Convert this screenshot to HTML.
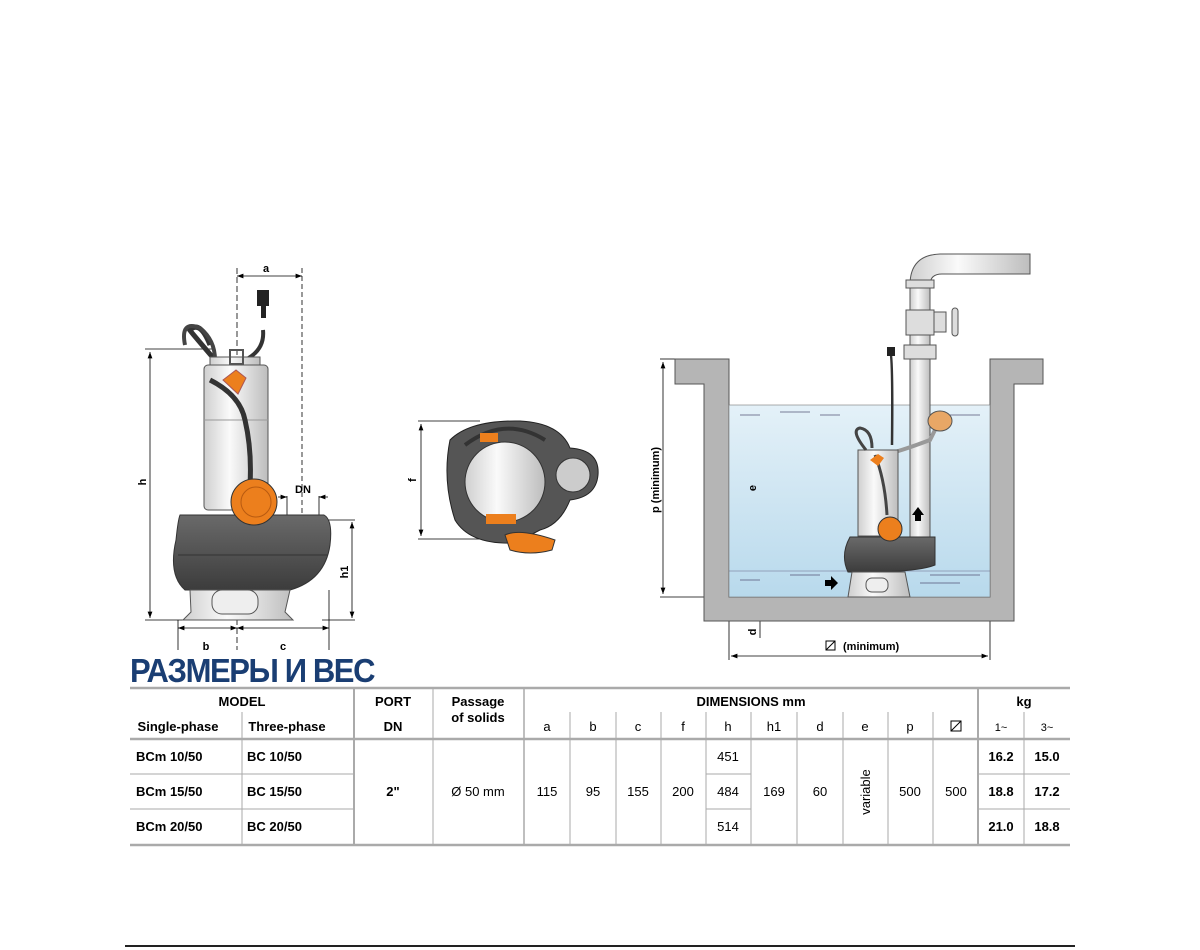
<!DOCTYPE html>
<html><head><meta charset="utf-8"><style>
body{margin:0;background:#fff;width:1200px;height:950px;overflow:hidden;position:relative;font-family:"Liberation Sans",sans-serif}
.t{position:absolute;left:130px;top:652px;font:bold 33px "Liberation Sans",sans-serif;color:#1a3e73;letter-spacing:-1.5px;transform:scaleX(0.94);transform-origin:left}
svg{position:absolute;left:0;top:0}
</style></head><body>
<svg width="1200" height="950" viewBox="0 0 1200 950" font-family="Liberation Sans, sans-serif">
<defs>
<linearGradient id="st" x1="0" x2="1"><stop offset="0" stop-color="#cfcfcf"/><stop offset=".4" stop-color="#fafafa"/><stop offset="1" stop-color="#bdbdbd"/></linearGradient>
<linearGradient id="dk" x1="0" x2="0" y1="0" y2="1"><stop offset="0" stop-color="#6a6a6a"/><stop offset="1" stop-color="#3c3c3c"/></linearGradient>
<linearGradient id="wt" x1="0" x2="0" y1="0" y2="1"><stop offset="0" stop-color="#e4f1f8"/><stop offset="1" stop-color="#b8d9ec"/></linearGradient>
<marker id="ar" markerWidth="8" markerHeight="6" refX="8" refY="3" orient="auto-start-reverse"><path d="M0,0L8,3L0,6z" fill="#000"/></marker>
</defs>
<g stroke="#000" stroke-width="0.8" fill="none">
<line x1="237" y1="268" x2="237" y2="650" stroke-dasharray="6 3"/>
<line x1="302" y1="268" x2="302" y2="540" stroke-dasharray="5 3"/>
<line x1="237" y1="276" x2="302" y2="276" marker-start="url(#ar)" marker-end="url(#ar)"/>
<line x1="145" y1="349" x2="215" y2="349"/><line x1="145" y1="620" x2="185" y2="620"/>
<line x1="150" y1="352" x2="150" y2="618" marker-start="url(#ar)" marker-end="url(#ar)"/>
<line x1="322" y1="520" x2="355" y2="520"/><line x1="322" y1="620" x2="355" y2="620"/>
<line x1="352" y1="522" x2="352" y2="618" marker-start="url(#ar)" marker-end="url(#ar)"/>
<line x1="178" y1="620" x2="178" y2="650"/><line x1="329" y1="590" x2="329" y2="650"/>
<line x1="178" y1="628" x2="237" y2="628" marker-start="url(#ar)" marker-end="url(#ar)"/>
<line x1="237" y1="628" x2="329" y2="628" marker-start="url(#ar)" marker-end="url(#ar)"/>
<line x1="287" y1="496" x2="287" y2="516"/><line x1="319" y1="496" x2="319" y2="516"/>
<line x1="278" y1="497" x2="287" y2="497" marker-end="url(#ar)"/><line x1="328" y1="497" x2="319" y2="497" marker-end="url(#ar)"/>
<line x1="418" y1="421" x2="480" y2="421"/><line x1="418" y1="539" x2="490" y2="539"/>
<line x1="421" y1="424" x2="421" y2="536" marker-start="url(#ar)" marker-end="url(#ar)"/>
<line x1="660" y1="359" x2="675" y2="359"/><line x1="660" y1="597" x2="730" y2="597"/>
<line x1="663" y1="362" x2="663" y2="594" marker-start="url(#ar)" marker-end="url(#ar)"/>
<line x1="760" y1="407" x2="760" y2="570" marker-start="url(#ar)" marker-end="url(#ar)"/>
<line x1="760" y1="600" x2="760" y2="638" marker-start="url(#ar)"/>
<line x1="729" y1="621" x2="729" y2="660"/><line x1="990" y1="621" x2="990" y2="660"/>
<line x1="731" y1="656" x2="988" y2="656" marker-start="url(#ar)" marker-end="url(#ar)"/>
</g>
<path d="M675,359H729V597H990V359H1043V384H1014V621H704V384H675Z" fill="#b5b5b5" stroke="#555"/>
<rect x="729" y="405" width="261" height="192" fill="url(#wt)" stroke="#777" stroke-width="0.6"/>
<line x1="729" y1="571" x2="990" y2="571" stroke="#668" stroke-width="0.6"/>
<g stroke="#557" stroke-width="0.8">
<line x1="740" y1="415" x2="760" y2="415"/><line x1="780" y1="412" x2="810" y2="412"/><line x1="820" y1="415" x2="840" y2="415"/><line x1="950" y1="415" x2="980" y2="415"/>
<line x1="740" y1="580" x2="760" y2="580"/><line x1="790" y1="575" x2="820" y2="575"/><line x1="930" y1="575" x2="980" y2="575"/><line x1="920" y1="583" x2="960" y2="583"/>
</g>
<rect x="910" y="285" width="20" height="255" fill="url(#st)" stroke="#555"/>
<path d="M910,285 Q910,255 940,254 H1030 V274 H942 Q930,274 930,285Z" fill="url(#st)" stroke="#555"/>
<rect x="906" y="280" width="28" height="8" fill="#ddd" stroke="#555"/>
<rect x="906" y="310" width="28" height="25" fill="#ddd" stroke="#555"/>
<rect x="934" y="312" width="12" height="20" fill="#ddd" stroke="#555"/>
<rect x="952" y="308" width="6" height="28" rx="3" fill="#ddd" stroke="#555"/>
<rect x="904" y="345" width="32" height="14" fill="#ddd" stroke="#555"/>
<path d="M912,515 l6,-8 6,8 h-3 v6 h-6 v-6z" fill="#000"/>
<path d="M825,580 h6 v-4 l7,7 -7,7 v-4 h-6z" fill="#000"/>
<path d="M892,445 Q893,355 890,350" stroke="#333" stroke-width="2.5" fill="none"/>
<rect x="887" y="347" width="8" height="9" fill="#222"/>
<path d="M880,455 Q890,455 930,440 L940,420" stroke="#999" stroke-width="4" fill="none"/>
<ellipse cx="940" cy="421" rx="12" ry="10" fill="#e8a766" stroke="#555"/>
<rect x="858" y="450" width="40" height="86" fill="url(#st)" stroke="#555"/>
<path d="M866,450 Q850,430 860,428 Q872,430 872,448" stroke="#444" stroke-width="3" fill="none"/>
<path d="M875,455 Q885,480 887,515" stroke="#444" stroke-width="3" fill="none"/>
<path d="M850,537 H935 V565 Q915,573 848,572 Q840,555 850,537Z" fill="url(#dk)" stroke="#333"/>
<path d="M852,572 H905 L910,597 H848Z" fill="url(#st)" stroke="#555"/>
<rect x="866" y="578" width="22" height="14" rx="6" fill="#eee" stroke="#555"/>
<circle cx="890" cy="529" r="12" fill="#ec7f1d" stroke="#333"/>
<path d="M870,460 l8,-6 6,4 -6,8z" fill="#ec7f1d"/>
<path d="M215,360 Q185,325 190,330 Q200,320 210,345" stroke="#333" stroke-width="5" fill="none"/>
<path d="M185,345 Q180,320 200,328 Q215,340 215,360" stroke="#444" stroke-width="4" fill="none"/>
<path d="M245,360 Q265,350 263,330" stroke="#333" stroke-width="4" fill="none"/>
<rect x="257" y="290" width="12" height="16" fill="#222"/><rect x="261" y="306" width="5" height="12" fill="#222"/>
<rect x="210" y="357" width="50" height="10" fill="url(#st)" stroke="#555"/>
<rect x="204" y="365" width="64" height="145" rx="4" fill="url(#st)" stroke="#555"/>
<line x1="204" y1="420" x2="268" y2="420" stroke="#999"/>
<rect x="230" y="350" width="13" height="14" fill="none" stroke="#555" stroke-width="2"/>
<path d="M210,380 Q240,395 245,420 Q252,450 250,485" stroke="#333" stroke-width="5" fill="none"/>
<path d="M223,380 l13,-10 10,8 -8,16z" fill="#ec7f1d" stroke="#a55"/>
<path d="M180,515 H324 Q333,520 330,545 Q325,580 290,590 H185 Q168,575 176,540 Q178,520 180,515Z" fill="url(#dk)" stroke="#333"/>
<line x1="178" y1="555" x2="328" y2="555" stroke="#333"/>
<path d="M190,590 H290 L285,612 L293,620 H183 L191,612Z" fill="url(#st)" stroke="#555"/>
<rect x="212" y="590" width="46" height="24" rx="10" fill="#eee" stroke="#555"/>
<circle cx="254" cy="502" r="23" fill="#ec7f1d" stroke="#333"/>
<circle cx="256" cy="502" r="15" fill="none" stroke="#b85a10"/>
<path d="M450,440 Q470,420 520,421 Q560,423 570,448 Q600,450 598,475 Q596,497 570,500 Q560,525 540,530 L515,543 Q470,545 455,520 Q442,480 450,440Z" fill="#555" stroke="#222"/>
<circle cx="505" cy="482" r="40" fill="url(#st)" stroke="#333"/>
<circle cx="573" cy="475" r="17" fill="#ccc" stroke="#333"/>
<path d="M465,445 Q505,415 545,440" stroke="#333" stroke-width="4" fill="none"/>
<rect x="480" y="433" width="18" height="9" fill="#ec7f1d"/>
<path d="M505,535 Q520,528 555,540 L552,550 Q530,556 510,550Z" fill="#ec7f1d" stroke="#333"/>
<rect x="486" y="514" width="30" height="10" fill="#ec7f1d"/>
<g font-weight="bold" font-size="11" fill="#000">
<text x="266" y="272" text-anchor="middle">a</text>
<text x="146" y="482" transform="rotate(-90 146 482)" text-anchor="middle">h</text>
<text x="303" y="493" text-anchor="middle">DN</text>
<text x="348" y="572" transform="rotate(-90 348 572)" text-anchor="middle">h1</text>
<text x="206" y="650" text-anchor="middle">b</text>
<text x="283" y="650" text-anchor="middle">c</text>
<text x="416" y="480" transform="rotate(-90 416 480)" text-anchor="middle">f</text>
<text x="659" y="480" transform="rotate(-90 659 480)" text-anchor="middle">p  (minimum)</text>
<text x="756" y="488" transform="rotate(-90 756 488)" text-anchor="middle">e</text>
<text x="756" y="632" transform="rotate(-90 756 632)" text-anchor="middle">d</text>
<text x="843" y="650">(minimum)</text>
</g>
<rect x="826" y="641" width="9" height="9" fill="none" stroke="#000"/><line x1="826" y1="650" x2="835" y2="641" stroke="#000"/>
<g stroke="#aaa">
<line x1="130" y1="688" x2="1070" y2="688" stroke-width="2.5"/>
<line x1="130" y1="739" x2="1070" y2="739" stroke-width="2.5"/>
<line x1="130" y1="845" x2="1070" y2="845" stroke-width="2.5"/>
<line x1="130" y1="774" x2="354" y2="774"/><line x1="130" y1="809" x2="354" y2="809"/>
<line x1="978" y1="774" x2="1070" y2="774"/><line x1="978" y1="809" x2="1070" y2="809"/>
<line x1="706" y1="774" x2="751" y2="774"/><line x1="706" y1="809" x2="751" y2="809"/>
<line x1="242" y1="712" x2="242" y2="845"/><line x1="1024" y1="712" x2="1024" y2="845"/>
<line x1="354" y1="688" x2="354" y2="845" stroke-width="2"/>
<line x1="433" y1="688" x2="433" y2="845"/>
<line x1="524" y1="688" x2="524" y2="845" stroke-width="1.5"/>
<line x1="978" y1="688" x2="978" y2="845" stroke-width="2"/>
<g><line x1="570" y1="712" x2="570" y2="845"/><line x1="616" y1="712" x2="616" y2="845"/><line x1="661" y1="712" x2="661" y2="845"/><line x1="706" y1="712" x2="706" y2="845"/><line x1="751" y1="712" x2="751" y2="845"/><line x1="797" y1="712" x2="797" y2="845"/><line x1="843" y1="712" x2="843" y2="845"/><line x1="888" y1="712" x2="888" y2="845"/><line x1="933" y1="712" x2="933" y2="845"/></g>
</g>
<g font-size="13" fill="#000" text-anchor="middle">
<g font-weight="bold">
<text x="242" y="706">MODEL</text><text x="393" y="706">PORT</text><text x="478" y="706">Passage</text><text x="751" y="706">DIMENSIONS mm</text><text x="1024" y="706">kg</text>
<text x="478" y="722">of solids</text>
<text x="178" y="731">Single-phase</text><text x="287" y="731">Three-phase</text><text x="393" y="731">DN</text>
<text x="393" y="796">2"</text>
<text x="1001" y="761">16.2</text><text x="1047" y="761">15.0</text>
<text x="1001" y="796">18.8</text><text x="1047" y="796">17.2</text>
<text x="1001" y="831">21.0</text><text x="1047" y="831">18.8</text>
</g>
<g font-weight="bold" text-anchor="start">
<text x="136" y="761">BCm 10/50</text><text x="247" y="761">BC 10/50</text>
<text x="136" y="796">BCm 15/50</text><text x="247" y="796">BC 15/50</text>
<text x="136" y="831">BCm 20/50</text><text x="247" y="831">BC 20/50</text>
</g>
<text x="547" y="731">a</text><text x="593" y="731">b</text><text x="638" y="731">c</text><text x="683" y="731">f</text><text x="728" y="731">h</text><text x="774" y="731">h1</text><text x="820" y="731">d</text><text x="865" y="731">e</text><text x="910" y="731">p</text>
<text x="1001" y="731" font-size="11">1~</text><text x="1047" y="731" font-size="11">3~</text>
<text x="478" y="796">Ø 50 mm</text>
<text x="547" y="796">115</text><text x="593" y="796">95</text><text x="638" y="796">155</text><text x="683" y="796">200</text>
<text x="728" y="761">451</text><text x="728" y="796">484</text><text x="728" y="831">514</text>
<text x="774" y="796">169</text><text x="820" y="796">60</text><text x="910" y="796">500</text><text x="956" y="796">500</text>
<text x="870" y="792" transform="rotate(-90 870 792)">variable</text>
</g>
<rect x="951" y="721" width="10" height="10" fill="none" stroke="#000"/><line x1="951" y1="731" x2="961" y2="721" stroke="#000"/>
<line x1="125" y1="946" x2="1075" y2="946" stroke="#222" stroke-width="2"/>
</svg>
<div class="t">РАЗМЕРЫ И ВЕС</div>
</body></html>
